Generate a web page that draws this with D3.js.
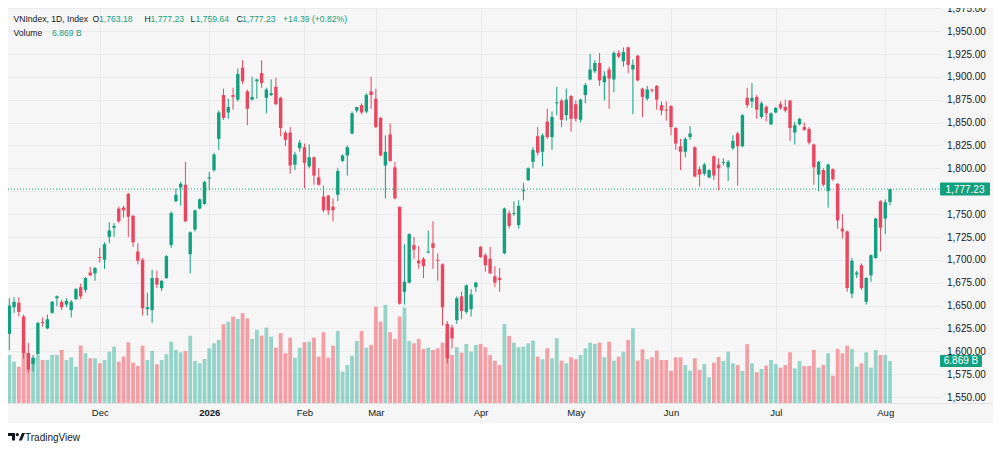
<!DOCTYPE html>
<html>
<head>
<meta charset="utf-8">
<script src="https://cdn.jsdelivr.net/npm/d3@7"></script>
<style>
  body { margin: 0; background: #fff; }
  svg { display: block; font-family: "Liberation Sans", Arial, sans-serif; }
</style>
</head>
<body>
<div id="chart"></div>
<script>
// VNIndex daily candles, Nov 2025 -> Aug 3 2026
const open = [
  1619,1648,1653,1638,1598,1586,1597,1632,1625,1642,
  1658,1654,1651,1645,1657,1670,1667,1686,1685,1703,
  1700,1725,1735,1756,1757,1772,1748,1709,1700,1646,
  1645,1680,1669,1680,1716,1764,1779,1782,1706,1733,
  1756,1761,1789,1798,1832,1880,1861,1880,1875,1910,
  1884,1875,1895,1904,1877,1880,1889,1877,1839,
  1839,1804,1822,1823,1802,1812,1790,1769,1770,1758,
  1771,1808,1814,1838,1863,1869,1862,1884,1876,1855,
  1803,1837,1801,1758,1665,1675,1716,1699,1701,1708,1718,
  1700,1695,1630,1626,1634,1660,1643,1646,1670,1714,
  1705,1701,1682,1680,1707,1751,1750,1738,1775,1787,
  1807,1835,1818,1851,1834,1871,1874,1858,1879,1870,
  1853,1880,1897,1906,1915,1894,1908,1897,1926,1917,
  1932,1908,1923,1887,1876,1886,1890,1869,1864,1868,
  1844,1824,1818,1834,1823,1799,1794,1790,1813,1804,
  1806,1801,1822,1838,1824,1877,1873,1878,1856,1867,
  1848,1861,1870,1867,1874,1839,1848,1845,1843,1826,
  1793,1798,1775,1799,1783,1734,1731,1663,1684,1694,
  1654,1683,1702,1764,1745,1763.18
];
const high = [
  1658,1659,1659,1640,1609,1596,1632,1637,1640,1655,
  1661,1656,1658,1656,1669,1674,1681,1692,1692,1713,
  1719,1741,1740,1758,1759,1773,1749,1718,1702,1664,
  1689,1688,1678,1705,1753,1778,1785,1807,1731,1755,
  1767,1786,1796,1817,1863,1887,1876,1888,1909,1918,
  1886,1900,1898,1918,1888,1897,1899,1878,1841,
  1845,1818,1831,1827,1826,1813,1800,1781,1771,1767,
  1800,1815,1825,1862,1867,1871,1882,1900,1887,1856,
  1836,1849,1807,1758,1717,1729,1725,1715,1703,1732,1742,
  1707,1696,1633,1629,1660,1665,1673,1668,1676,1715,
  1707,1714,1693,1691,1757,1754,1764,1765,1784,1801,
  1823,1845,1838,1865,1862,1889,1876,1887,1880,1874,
  1876,1893,1925,1918,1926,1906,1911,1928,1929,1932,
  1933,1919,1924,1888,1890,1887,1891,1873,1873,1869,
  1845,1832,1834,1846,1824,1802,1806,1799,1814,1811,
  1811,1809,1836,1840,1859,1888,1893,1880,1873,1869,
  1861,1867,1873,1875,1874,1851,1855,1850,1845,1827,
  1808,1800,1805,1800,1784,1750,1732,1702,1688,1696,
  1681,1706,1746,1765,1766,1777.23
];
const low = [
  1601,1642,1638,1592,1577,1578,1596,1627,1624,1641,
  1649,1645,1648,1637,1656,1657,1664,1682,1677,1697,
  1690,1718,1725,1740,1746,1725,1714,1695,1639,1639,
  1631,1669,1666,1679,1713,1763,1759,1741,1685,1731,
  1755,1760,1776,1796,1820,1853,1854,1864,1873,1892,
  1847,1874,1876,1888,1860,1879,1869,1835,1824,
  1794,1798,1818,1778,1800,1782,1781,1752,1749,1742,
  1764,1807,1792,1837,1861,1859,1860,1865,1844,1813,
  1767,1807,1766,1651,1651,1674,1701,1690,1680,1707,1690,
  1677,1628,1587,1603,1630,1635,1641,1638,1665,1702,
  1687,1685,1670,1665,1706,1734,1748,1734,1765,1786,
  1800,1814,1802,1832,1820,1858,1845,1852,1840,1851,
  1850,1871,1896,1904,1890,1874,1865,1883,1920,1911,
  1904,1859,1895,1856,1874,1883,1864,1858,1852,1836,
  1820,1798,1812,1831,1790,1780,1792,1789,1787,1776,
  1803,1786,1820,1781,1823,1866,1866,1854,1854,1851,
  1847,1860,1864,1861,1830,1826,1847,1841,1826,1782,
  1775,1780,1757,1786,1734,1723,1665,1658,1680,1667,
  1651,1676,1701,1709,1728,1759.64
];
const close = [
  1650,1654,1643,1598,1580,1593,1631,1631,1635,1654,
  1660,1648,1655,1654,1668,1660,1680,1683,1691,1702,
  1717,1732,1737,1742,1754,1747,1719,1699,1647,1648,
  1680,1673,1677,1704,1751,1771,1783,1742,1730,1754,
  1766,1785,1790,1815,1861,1855,1867,1878,1903,1895,
  1865,1878,1897,1893,1886,1882,1870,1844,1831,
  1803,1815,1828,1806,1812,1792,1782,1754,1754,1754,
  1797,1814,1823,1860,1867,1861,1880,1880,1845,1814,
  1818,1808,1767,1652,1676,1728,1711,1696,1693,1709,1713,
  1699,1648,1592,1614,1658,1644,1672,1662,1675,1703,
  1694,1685,1675,1678,1756,1737,1751,1759,1776,1800,
  1820,1817,1836,1834,1856,1872,1853,1875,1854,1854,
  1875,1891,1908,1915,1896,1901,1898,1926,1922,1927,
  1913,1913,1896,1878,1886,1885,1875,1863,1863,1845,
  1827,1818,1832,1838,1791,1793,1804,1798,1792,1800,
  1807,1807,1830,1824,1858,1869,1877,1864,1871,1860,
  1860,1866,1866,1863,1844,1847,1854,1842,1828,1801,
  1807,1782,1804,1788,1743,1731,1669,1699,1686,1669,
  1680,1705,1745,1735,1762.84,1777.23
];
// volume in billions
const volume = [
  7.85,6.75,5.93,9.37,8.13,7.31,7.85,7.03,7.03,7.85,
  7.85,8.67,7.03,7.47,5.93,9.37,8.13,7.31,7.31,6.49,
  7.03,8.39,9.2,6.75,7.57,9.92,6.59,6.05,9.37,7.03,
  8.5,6.33,7.03,7.96,10.02,8.67,8.29,8.5,11.0,6.87,
  6.49,7.19,8.94,9.76,10.3,12.87,13.29,14.11,13.73,14.67,
  13.85,10.46,11.94,11.0,12.31,10.84,9.04,11.4,8.13,
  10.68,7.41,9.04,9.92,10.02,10.68,7.57,11.56,7.41,9.37,
  11.77,5.12,6.21,7.73,10.14,11.77,9.04,9.48,15.74,13.29,
  16.02,11.56,10.46,14.11,15.58,10.14,9.76,10.46,8.83,9.04,8.67,
  8.94,9.86,11.4,7.85,9.11,8.22,9.65,8.39,9.48,9.65,
  9.11,7.85,6.92,6.21,12.92,10.95,9.86,9.11,9.2,9.76,
  10.19,7.57,7.14,8.94,7.31,10.58,6.92,6.49,7.47,7.14,
  7.85,8.94,9.86,9.65,9.86,7.47,10.02,6.92,7.57,8.39,
  10.3,12.21,6.92,8.78,7.14,7.47,8.55,7.03,7.03,5.28,
  7.47,7.47,6.21,5.28,7.31,5.4,6.38,4.2,6.59,7.52,
  6.87,8.39,6.49,6.21,5.23,9.6,6.49,5.02,5.56,6.1,
  7.03,6.33,5.77,6.21,8.29,5.67,6.87,6.05,6.05,8.67,
  5.77,6.21,8.13,4.46,8.83,8.13,9.37,8.83,5.93,6.49,
  8.29,5.77,8.67,7.85,7.85,6.869
];

// axis labels
const monthIdx = [19, 42, 62, 77, 99, 119, 139, 161, 184];
const monthLabels = ["Dec", "2026", "Feb", "Mar", "Apr", "May", "Jun", "Jul", "Aug"];
const priceTicks = [1550,1575,1600,1625,1650,1675,1700,1725,1750,1775,1800,1825,1850,1875,1900,1925,1950,1975];

const UP = "#12a07f", DOWN = "#e9465f", TXT = "#131722";
const W = 1000, H = 451;
const plotLeft = 8, plotRight = 940, plotTop = 8, axisY = 403;

const svg = d3.select("#chart").append("svg")
    .attr("width", W).attr("height", H);

svg.append("rect").attr("width", W).attr("height", H).attr("fill", "#fff");
svg.append("rect")
    .attr("x", 8).attr("y", 8).attr("width", 985).attr("height", 415)
    .attr("fill", "#f6f6f6");

const defs = svg.append("defs");
defs.append("clipPath").attr("id", "plotClip").append("rect")
    .attr("x", plotLeft).attr("y", plotTop)
    .attr("width", plotRight - plotLeft).attr("height", axisY - plotTop);
defs.append("clipPath").attr("id", "axisClip").append("rect")
    .attr("x", plotRight).attr("y", plotTop)
    .attr("width", 993 - plotRight).attr("height", axisY - plotTop);

// scales
const x = d3.scaleLinear().domain([0, close.length - 1]).range([9.3, 890]);
const y = d3.scaleLinear().domain([1550, 1950]).range([397, 31]);
const vy = d3.scaleLinear().domain([0, 16.5]).range([axisY, 302]);

const plot = svg.append("g").attr("clip-path", "url(#plotClip)");

// grid
plot.append("g").selectAll("line").data(priceTicks).join("line")
    .attr("x1", plotLeft).attr("x2", plotRight)
    .attr("y1", d => Math.round(y(d)) + 0.5).attr("y2", d => Math.round(y(d)) + 0.5)
    .attr("stroke", "#ebebeb").attr("stroke-width", 1);
plot.append("g").selectAll("line").data(monthIdx).join("line")
    .attr("x1", d => Math.round(x(d)) + 0.5).attr("x2", d => Math.round(x(d)) + 0.5)
    .attr("y1", plotTop).attr("y2", axisY)
    .attr("stroke", "#ebebeb").attr("stroke-width", 1);

const bars = close.map((c, i) => ({
    i, o: open[i], h: high[i], l: low[i], c, v: volume[i], up: c >= open[i]
}));

// volume
plot.append("g").selectAll("rect").data(bars).join("rect")
    .attr("x", d => x(d.i) - 1.9)
    .attr("width", 3.8)
    .attr("y", d => vy(d.v))
    .attr("height", d => axisY - vy(d.v))
    .attr("fill", d => d.up ? "#22ab94" : "#f23645")
    .attr("fill-opacity", 0.45);

// last price line
const last = bars[bars.length - 1];
plot.append("line")
    .attr("x1", plotLeft).attr("x2", plotRight)
    .attr("y1", y(last.c)).attr("y2", y(last.c))
    .attr("stroke", UP).attr("stroke-width", 1)
    .attr("stroke-dasharray", "1,2");

// candles
const candles = plot.append("g").selectAll("g").data(bars).join("g");
candles.append("rect")
    .attr("x", d => x(d.i) - 0.5).attr("width", 1)
    .attr("y", d => y(d.h))
    .attr("height", d => Math.max(1, y(d.l) - y(d.h)))
    .attr("fill", d => d.up ? UP : DOWN);
candles.append("rect")
    .attr("x", d => x(d.i) - 1.7).attr("width", 3.4)
    .attr("y", d => y(Math.max(d.o, d.c)))
    .attr("height", d => Math.max(1, Math.abs(y(d.o) - y(d.c))))
    .attr("fill", d => d.up ? UP : DOWN);

// time axis separator
svg.append("line")
    .attr("x1", 8).attr("x2", 993).attr("y1", axisY + 0.5).attr("y2", axisY + 0.5)
    .attr("stroke", "#e3e3e3");

// price axis (labels hidden under the last-price tag are skipped, as on the original)
const shownTicks = priceTicks.filter(t => Math.abs(y(t) - y(last.c)) > 9);
const yAxis = svg.append("g")
    .attr("clip-path", "url(#axisClip)")
    .append("g")
    .attr("transform", `translate(${plotRight},0)`)
    .call(d3.axisRight(y).tickValues(shownTicks).tickFormat(d3.format(",.2f"))
        .tickSize(0).tickPadding(7));
yAxis.select(".domain").remove();
yAxis.selectAll("text").attr("fill", TXT).attr("font-size", 10)
    .attr("font-family", "Liberation Sans, Arial, sans-serif");

// time axis
const xAxis = svg.append("g")
    .attr("transform", `translate(0,${axisY})`)
    .call(d3.axisBottom(x).tickValues(monthIdx).tickFormat((d, i) => monthLabels[i])
        .tickSize(0).tickPadding(6));
xAxis.select(".domain").remove();
xAxis.selectAll("text").attr("fill", TXT).attr("font-size", 9.5)
    .attr("font-family", "Liberation Sans, Arial, sans-serif")
    .attr("font-weight", d => d === 42 ? "bold" : "normal");

// price labels on the axis
const fmt = d3.format(",.2f");
svg.append("rect")
    .attr("x", 940).attr("y", y(last.c) - 6.5).attr("width", 50).attr("height", 13)
    .attr("rx", 1).attr("fill", UP);
svg.append("text")
    .attr("x", 965).attr("y", y(last.c)).attr("dy", "0.35em")
    .attr("text-anchor", "middle").attr("fill", "#fff").attr("font-size", 10)
    .text(fmt(last.c));
svg.append("rect")
    .attr("x", 940).attr("y", vy(last.v) - 6).attr("width", 42).attr("height", 12)
    .attr("rx", 1).attr("fill", UP);
svg.append("text")
    .attr("x", 961).attr("y", vy(last.v)).attr("dy", "0.35em")
    .attr("text-anchor", "middle").attr("fill", "#fff").attr("font-size", 10)
    .text(last.v.toFixed(3) + " B");

// legend header
const prev = bars[bars.length - 2];
const chg = last.c - prev.c;
const head = svg.append("g").attr("font-size", 8.6);
head.append("text").attr("x", 13.5).attr("y", 21.5).attr("fill", TXT)
    .text("VNIndex, 1D, Index");
const ohlc = [["O", last.o, 92.5, 99], ["H", last.h, 144.5, 150.5], ["L", last.l, 190.5, 195.5], ["C", last.c, 236.5, 242]];
ohlc.forEach(([k, v, kx, vx]) => {
    head.append("text").attr("x", kx).attr("y", 21.5).attr("fill", TXT).text(k);
    head.append("text").attr("x", vx).attr("y", 21.5).attr("fill", UP).text(fmt(v));
});
head.append("text").attr("x", 283).attr("y", 21.5).attr("fill", UP)
    .text(`+${chg.toFixed(2)} (+${(chg / prev.c * 100).toFixed(2)}%)`);
head.append("text").attr("x", 13.5).attr("y", 35.5).attr("fill", TXT).text("Volume");
head.append("text").attr("x", 52).attr("y", 35.5).attr("fill", UP)
    .text(last.v.toFixed(3) + " B");

// TradingView mark
const logo = svg.append("g").attr("fill", TXT);
logo.append("path").attr("d", "M8 433h7v7.5h-3v-4.5H8z");
logo.append("circle").attr("cx", 17.3).attr("cy", 434.6).attr("r", 1.6);
logo.append("path").attr("d", "M18.8 440.5L22 433h3l-3.2 7.5z");
svg.append("text").attr("x", 25).attr("y", 441).attr("fill", TXT)
    .attr("font-size", 10).text("TradingView");
</script>
</body>
</html>
